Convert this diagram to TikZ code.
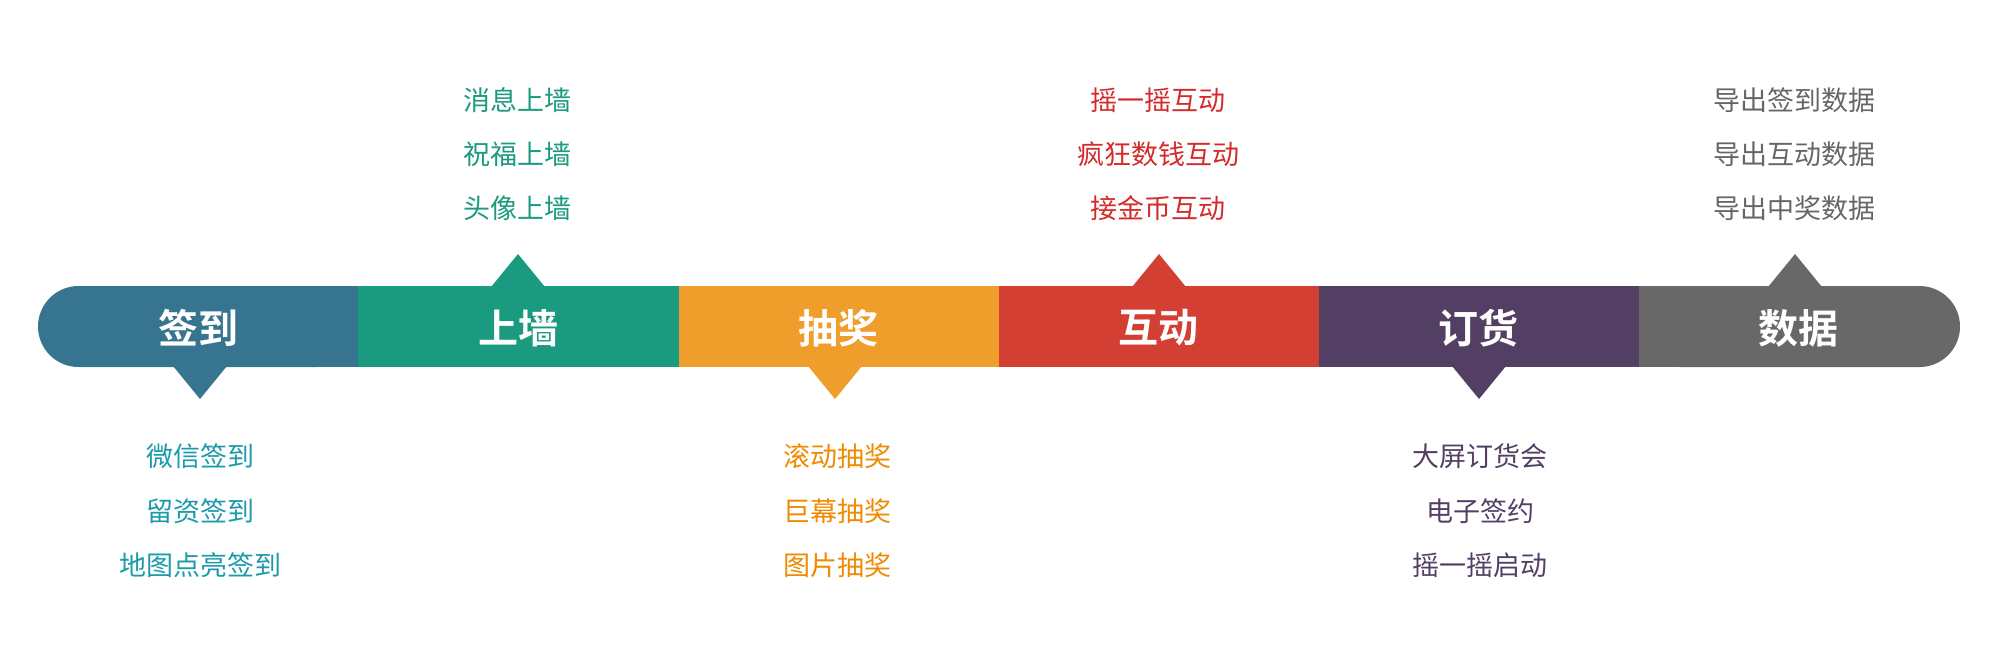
\documentclass[tikz,border=0pt]{standalone}
\usepackage{fontspec}
\setmainfont{Noto Sans CJK SC}[BoldFont={Noto Sans CJK SC Bold}]
\definecolor{c1}{HTML}{37748F}\definecolor{c2}{HTML}{1A9A7E}\definecolor{c3}{HTML}{EF9E2C}
\definecolor{c4}{HTML}{D33F33}\definecolor{c5}{HTML}{533F63}\definecolor{c6}{HTML}{686868}
\definecolor{t1}{HTML}{1B9AAA}\definecolor{t3}{HTML}{F08A00}\definecolor{t4}{HTML}{D42A2A}\definecolor{t6}{HTML}{666666}
\begin{document}
\begin{tikzpicture}[x=0.5pt,y=-0.5pt,
  lbl/.style={font=\bfseries\fontsize{20}{24}\selectfont,text=white},
  itm/.style={font=\fontsize{13.5}{16}\selectfont,inner sep=0pt}]
\useasboundingbox (0,0) rectangle (2000,645);
% segments
\fill[c1,rounded corners=20.25pt] (38,286) rectangle (358,367);
\fill[c1] (200,286) rectangle (358,367);
\fill[c2] (358,286) rectangle (679,367);
\fill[c3] (679,286) rectangle (999,367);
\fill[c4] (999,286) rectangle (1319,367);
\fill[c5] (1319,286) rectangle (1639,367);
\fill[c6,rounded corners=20.25pt] (1639,286) rectangle (1960,367);
\fill[c6] (1639,286) rectangle (1800,367);
% triangles
\fill[c1] (173,366) -- (227,366) -- (200,399) -- cycle;
\fill[c2] (491,287) -- (545,287) -- (518,254) -- cycle;
\fill[c3] (808,366) -- (862,366) -- (835,399) -- cycle;
\fill[c4] (1132,287) -- (1186,287) -- (1159,254) -- cycle;
\fill[c5] (1452,366) -- (1506,366) -- (1479,399) -- cycle;
\fill[c6] (1768,287) -- (1822,287) -- (1795,254) -- cycle;
% labels
\node[lbl] (l1) at (198,328) {签到};
\node[lbl] (l2) at (518,328) {上墙};
\node[lbl] (l3) at (838,328) {抽奖};
\node[lbl] (l4) at (1158,328) {互动};
\node[lbl] (l5) at (1478,328) {订货};
\node[lbl] (l6) at (1798,328) {数据};
% lists
\node[itm,text=t1] (a1) at (200,456) {微信签到};
\node[itm,text=t1] (a2) at (200,511) {留资签到};
\node[itm,text=t1] (a3) at (200,565) {地图点亮签到};
\node[itm,text=c2] (b1) at (517,100) {消息上墙};
\node[itm,text=c2] (b2) at (517,154) {祝福上墙};
\node[itm,text=c2] (b3) at (517,208) {头像上墙};
\node[itm,text=t3] (c1n) at (837,456) {滚动抽奖};
\node[itm,text=t3] (c2n) at (837,511) {巨幕抽奖};
\node[itm,text=t3] (c3n) at (837,565) {图片抽奖};
\node[itm,text=t4] (d1) at (1158,100) {摇一摇互动};
\node[itm,text=t4] (d2) at (1158,154) {疯狂数钱互动};
\node[itm,text=t4] (d3) at (1158,208) {接金币互动};
\node[itm,text=c5] (e1) at (1480,456) {大屏订货会};
\node[itm,text=c5] (e2) at (1480,511) {电子签约};
\node[itm,text=c5] (e3) at (1480,565) {摇一摇启动};
\node[itm,text=t6] (f1) at (1794,100) {导出签到数据};
\node[itm,text=t6] (f2) at (1794,154) {导出互动数据};
\node[itm,text=t6] (f3) at (1794,208) {导出中奖数据};
\end{tikzpicture}
\end{document}
